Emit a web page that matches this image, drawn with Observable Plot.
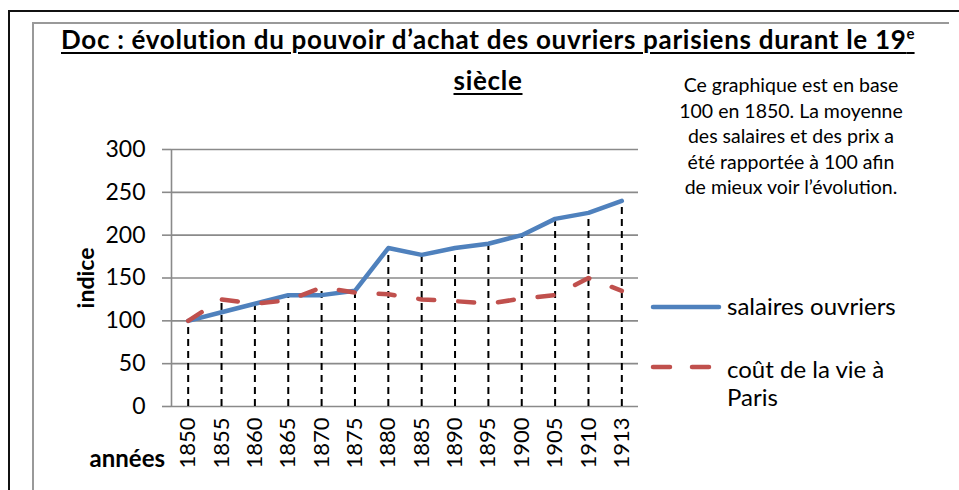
<!DOCTYPE html>
<html>
<head>
<meta charset="utf-8">
<script src="https://cdn.jsdelivr.net/npm/d3@7"></script>
<script src="https://cdn.jsdelivr.net/npm/@observablehq/plot@0.6"></script>
<style>
  html, body { margin: 0; padding: 0; background: #fff; }
  #wrap { position: relative; width: 959px; height: 490px; overflow: hidden; font-family: Lato, "Open Sans", sans-serif; color: #000; }
  #wrap svg { position: absolute; left: 0; top: 0; }
  .abs { position: absolute; white-space: nowrap; }
  #outerTop { left: 8px; top: 10px; width: 960px; height: 2px; background: #111; }
  #outerLeft { left: 8px; top: 10px; width: 2px; height: 490px; background: #111; }
  #innerTop { left: 32px; top: 22px; width: 917px; height: 2px; background: #999; }
  #innerLeft { left: 32px; top: 22px; width: 2px; height: 470px; background: #999; }
  #title1 { left: 61px; top: 23px; font-size: 26px; letter-spacing: 0.7px; font-weight: bold; text-decoration: underline; text-decoration-thickness: 2px; text-underline-offset: 3px; }
  #title1 sup { font-size: 15px; vertical-align: 10px; letter-spacing: 0; }
  #title2 { left: 488px; top: 64px; transform: translateX(-50%); font-size: 26px; letter-spacing: 0.7px; font-weight: bold; text-decoration: underline; text-decoration-thickness: 2px; text-underline-offset: 3px; }
  #note { left: 791px; top: 72px; transform: translateX(-50%); font-size: 19.5px; line-height: 25.5px; text-align: center; }
  #indice { left: 85px; top: 278px; transform: translate(-50%, -50%) rotate(-90deg); font-size: 23px; font-weight: bold; }
  #annees { right: 794px; top: 443px; font-size: 24px; font-weight: bold; }
  .legtext { font-size: 24px; line-height: 28px; }
</style>
</head>
<body>
<div id="wrap">
  <div id="plot"></div>
  <div class="abs" id="outerTop"></div>
  <div class="abs" id="outerLeft"></div>
  <div class="abs" id="innerTop"></div>
  <div class="abs" id="innerLeft"></div>
  <div class="abs" id="title1">Doc : évolution du pouvoir d’achat des ouvriers parisiens durant le 19<sup>e</sup></div>
  <div class="abs" id="title2">siècle</div>
  <div class="abs" id="note">Ce graphique est en base<br>100 en 1850. La moyenne<br>des salaires et des prix a<br>été rapportée à 100 afin<br>de mieux voir l’évolution.</div>
  <div class="abs" id="indice">indice</div>
  <div class="abs" id="annees">années</div>
  <div class="abs" id="legend" style="left:650px; top:290px;"></div>
</div>
<script>
const years = ["1850","1855","1860","1865","1870","1875","1880","1885","1890","1895","1900","1905","1910","1913"];
const salaires = [100, 110, 120, 130, 130, 135, 185, 177, 185, 190, 200, 219, 226, 240];
const cout = [100, 125, 120, 124, 139, 133, 131, 125, 123, 120, 126, 130, 150, 135];
const yTicks = [0, 50, 100, 150, 200, 250, 300];
const seriesNames = ["salaires ouvriers", "coût de la vie à Paris"];
const seriesColors = ["#4F81BD", "#C0504D"];

const data = years.map((y, i) => ({i, year: y, salaires: salaires[i], cout: cout[i], top: Math.max(salaires[i], cout[i])}));

const chart = Plot.plot({
  width: 959,
  height: 490,
  marginLeft: 171,
  marginRight: 321,
  marginTop: 149,
  marginBottom: 84,
  style: {fontFamily: "Lato, 'Open Sans', sans-serif", background: "transparent", color: "#000"},
  x: {type: "linear", domain: [-0.5, years.length - 0.5]},
  y: {domain: [0, 300]},
  marks: [
    Plot.gridY(yTicks, {stroke: "#8a8a8a", strokeOpacity: 1, strokeWidth: 1.6}),
    Plot.axisY({ticks: yTicks, tickSize: 9, tickPadding: 17, fontSize: 23, stroke: "#8a8a8a", strokeWidth: 1.6, label: null}),
    Plot.ruleX([-0.5], {y1: 0, y2: 300, stroke: "#8a8a8a", strokeWidth: 1.6}),
    Plot.axisX({ticks: d3.range(years.length), tickFormat: i => years[i], tickRotate: -90, tickSize: 0, tickPadding: 11, fontSize: 22, label: null}),
    Plot.ruleX(data, {x: "i", y1: 0, y2: "top", stroke: "#000", strokeWidth: 2, strokeDasharray: "7,5"}),
    Plot.line(data, {x: "i", y: "salaires", stroke: seriesColors[0], strokeWidth: 4.5, strokeLinejoin: "round", strokeLinecap: "round"}),
    Plot.line(data, {x: "i", y: "cout", stroke: seriesColors[1], strokeWidth: 4.5, strokeDasharray: "16,24", strokeLinecap: "round", strokeLinejoin: "round"})
  ]
});
document.getElementById("plot").appendChild(chart);

// Legend
const leg = document.getElementById("legend");
leg.innerHTML = `
  <div style="position:absolute; left:0; top:0; width:310px;">
    <svg width="75" height="10" style="position:absolute; left:0; top:12px;">
      <line x1="3" y1="5" x2="69" y2="5" stroke="${seriesColors[0]}" stroke-width="4.5" stroke-linecap="round"/>
    </svg>
    <div class="legtext abs" style="left:77px; top:2px;">${seriesNames[0]}</div>
    <svg width="75" height="10" style="position:absolute; left:0; top:72px;">
      <line x1="3" y1="5" x2="69" y2="5" stroke="${seriesColors[1]}" stroke-width="4.5" stroke-linecap="round" stroke-dasharray="17,22"/>
    </svg>
    <div class="legtext" style="position:absolute; left:77px; top:65px; width:230px; white-space:normal;">coût de la vie à<br>Paris</div>
  </div>`;
</script>
</body>
</html>
